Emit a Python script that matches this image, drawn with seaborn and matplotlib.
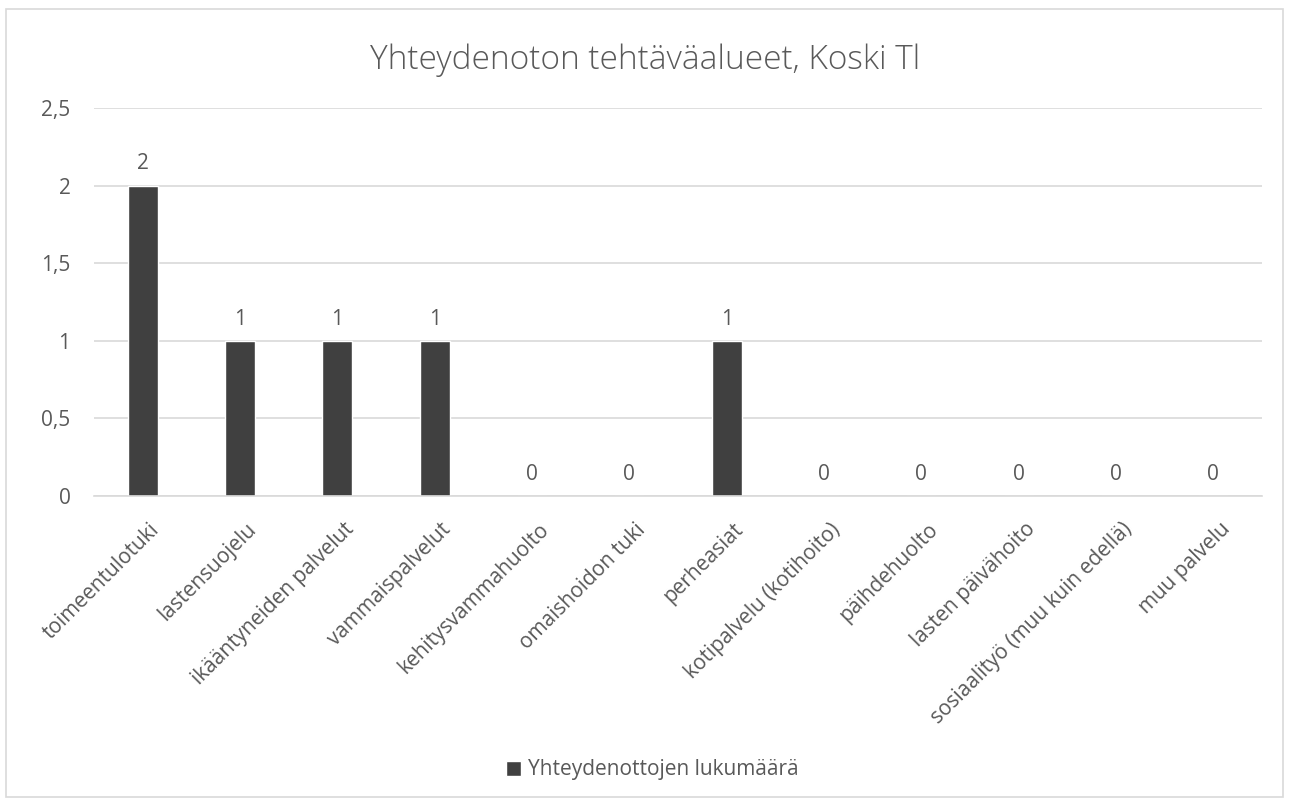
import matplotlib
matplotlib.use("Agg")
import matplotlib.pyplot as plt
import matplotlib.transforms as mtransforms
import seaborn as sns
import pandas as pd
from matplotlib.patches import Rectangle
from matplotlib.ticker import FuncFormatter

categories = ["toimeentulotuki", "lastensuojelu", "ikääntyneiden palvelut", "vammaispalvelut",
              "kehitysvammahuolto", "omaishoidon tuki", "perheasiat", "kotipalvelu (kotihoito)",
              "päihdehuolto", "lasten päivähoito", "sosiaalityö (muu kuin edellä)", "muu palvelu"]
values = [2, 1, 1, 1, 0, 0, 1, 0, 0, 0, 0, 0]
series_name = "Yhteydenottojen lukumäärä"
title = "Yhteydenoton tehtäväalueet, Koski Tl"
yticks = [0, 0.5, 1, 1.5, 2, 2.5]

sns.set_theme(style="white")
plt.rcParams['font.family'] = ['Open Sans', 'DejaVu Sans']

df = pd.DataFrame({"kategoria": categories, "arvo": values})

W, H = 1290, 801
fig = plt.figure(figsize=(W / 100, H / 100), dpi=100)
ax = fig.add_axes([94 / W, 1 - 496 / H, (1262 - 94) / W, (496 - 108) / H])

text_color = "#595959"
bar_color = "#404040"
grid_color = "#d9d9d9"
fs = 15

sns.barplot(data=df, x="kategoria", y="arvo", color=bar_color, width=0.31,
            saturation=1, ax=ax, label=series_name)

ax.set_ylim(0, 2.5)
ax.set_yticks(yticks)
ax.yaxis.set_major_formatter(FuncFormatter(lambda v, p: (f"{v:g}").replace(".", ",")))
ax.grid(axis="y", color=grid_color, linewidth=1.2)
ax.set_axisbelow(True)
for s in ["top", "right", "left"]:
    ax.spines[s].set_visible(False)
ax.spines["bottom"].set_color(grid_color)
ax.spines["bottom"].set_linewidth(1.2)
ax.tick_params(axis="both", length=0, colors=text_color, labelsize=fs)
ax.tick_params(axis="y", pad=17)
ax.set_xlabel("")
ax.set_ylabel("")
ax.set_xlim(-0.5, len(categories) - 0.5)

# x category labels, rotated 45 degrees, top-right corner just right of the tick
ax.set_xticks(range(len(categories)))
ax.set_xticklabels([])
offset = mtransforms.ScaledTranslation(6 / 100, -23 / 100, fig.dpi_scale_trans)
for i, cat in enumerate(categories):
    ax.text(i, 0, cat, transform=ax.get_xaxis_transform() + offset, rotation=45,
            rotation_mode="anchor", ha="right", va="top", fontsize=fs, color=text_color)

for cont in ax.containers:
    ax.bar_label(cont, labels=[str(v) for v in values], padding=8, color=text_color, fontsize=fs)

fig.text(0.5, 1 - 60 / H, title, ha="center", va="center", fontsize=24, color=text_color,
         fontweight="light")

ax.legend(loc="center", bbox_to_anchor=(652 / W, 1 - 770 / H), bbox_transform=fig.transFigure,
          frameon=False, fontsize=15, labelcolor=text_color, handlelength=0.75, handleheight=0.75,
          handletextpad=0.3)

fig.patches.append(Rectangle((6 / W, 4 / H), 1277 / W, 788 / H, transform=fig.transFigure,
                             fill=False, edgecolor="#d9d9d9", linewidth=1.2))

fig.savefig("out.png", dpi=100, facecolor="white")
